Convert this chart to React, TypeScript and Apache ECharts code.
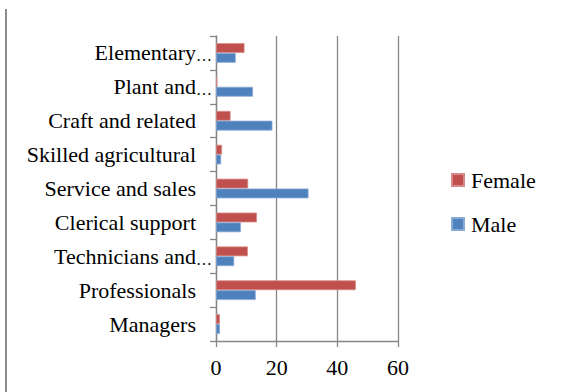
import React, { useEffect, useRef } from "react";
import * as echarts from "echarts";

// Occupation groups, bottom to top on the category axis
const categories = [
  "Managers",
  "Professionals",
  "Technicians and…",
  "Clerical support",
  "Service and sales",
  "Skilled agricultural",
  "Craft and related",
  "Plant and…",
  "Elementary…",
];

const femaleValues = [1.3, 46.1, 10.5, 13.5, 10.6, 2.0, 4.8, 0.4, 9.4];
const maleValues = [1.3, 13.1, 6.0, 8.2, 30.5, 1.7, 18.6, 12.2, 6.5];

const xTicks = [0, 20, 40, 60];

const FONT = "'Liberation Serif', 'Times New Roman', serif";
const AXIS_GRAY = "#868686";

// Shortened names keep their words flush with the others; the ellipsis hangs past them
function categoryLabel(value: string): string {
  if (value.endsWith("…")) {
    return `{w|${value.slice(0, -1)}}{e|…}`;
  }
  return `{t|${value}}`;
}

export default function App() {
  const ref = useRef<HTMLDivElement>(null);

  useEffect(() => {
    if (!ref.current) return;
    const chart = echarts.init(ref.current, undefined, { renderer: "svg" });
    chart.setOption({
      animation: false,
      backgroundColor: "#ffffff",
      textStyle: { fontFamily: FONT },
      grid: { left: 216, top: 36, width: 182, height: 305 },
      legend: {
        orient: "vertical",
        left: 446,
        top: 164,
        itemWidth: 12,
        itemHeight: 12,
        itemGap: 22,
        icon: "rect",
        textStyle: { fontFamily: FONT, fontSize: 22, color: "#000", padding: [0, 0, 0, 2] },
        data: ["Female", "Male"],
      },
      xAxis: {
        type: "value",
        min: xTicks[0],
        max: xTicks[xTicks.length - 1],
        interval: 20,
        axisLine: { show: true, lineStyle: { color: AXIS_GRAY, width: 1.3 } },
        axisTick: { show: true, length: 6, lineStyle: { color: AXIS_GRAY, width: 1.3 } },
        axisLabel: { fontFamily: FONT, fontSize: 22, color: "#000", margin: 15 },
        splitLine: { show: true, lineStyle: { color: AXIS_GRAY, width: 1.3 } },
      },
      yAxis: {
        type: "category",
        data: categories,
        axisLine: { show: true, lineStyle: { color: AXIS_GRAY, width: 1.3 } },
        axisTick: { show: true, length: 6, lineStyle: { color: AXIS_GRAY, width: 1.3 } },
        axisLabel: {
          color: "#000",
          margin: 4,
          formatter: categoryLabel,
          rich: {
            t: { fontFamily: FONT, fontSize: 22, color: "#000", padding: [0, 16, 0, 0] },
            w: { fontFamily: FONT, fontSize: 22, color: "#000" },
            e: { fontFamily: FONT, fontSize: 16, color: "#000", verticalAlign: "bottom" },
          },
        },
      },
      series: [
        {
          name: "Female",
          type: "bar",
          data: femaleValues,
          barGap: "0%",
          barCategoryGap: "42%",
          itemStyle: { color: "#C0504D", borderColor: "#d88a88", borderWidth: 0.8 },
        },
        {
          name: "Male",
          type: "bar",
          data: maleValues,
          barGap: "0%",
          barCategoryGap: "42%",
          itemStyle: { color: "#4F81BD", borderColor: "#8aaad6", borderWidth: 0.8 },
        },
      ],
      graphic: [
        {
          type: "line",
          shape: { x1: 6, y1: 9, x2: 6, y2: 392 },
          style: { stroke: "#8c8c8c", lineWidth: 2 },
        },
      ],
    });
    return () => chart.dispose();
  }, []);

  return (
    <div
      ref={ref}
      style={{ position: "fixed", left: 0, top: 0, width: 564, height: 392 }}
    />
  );
}
